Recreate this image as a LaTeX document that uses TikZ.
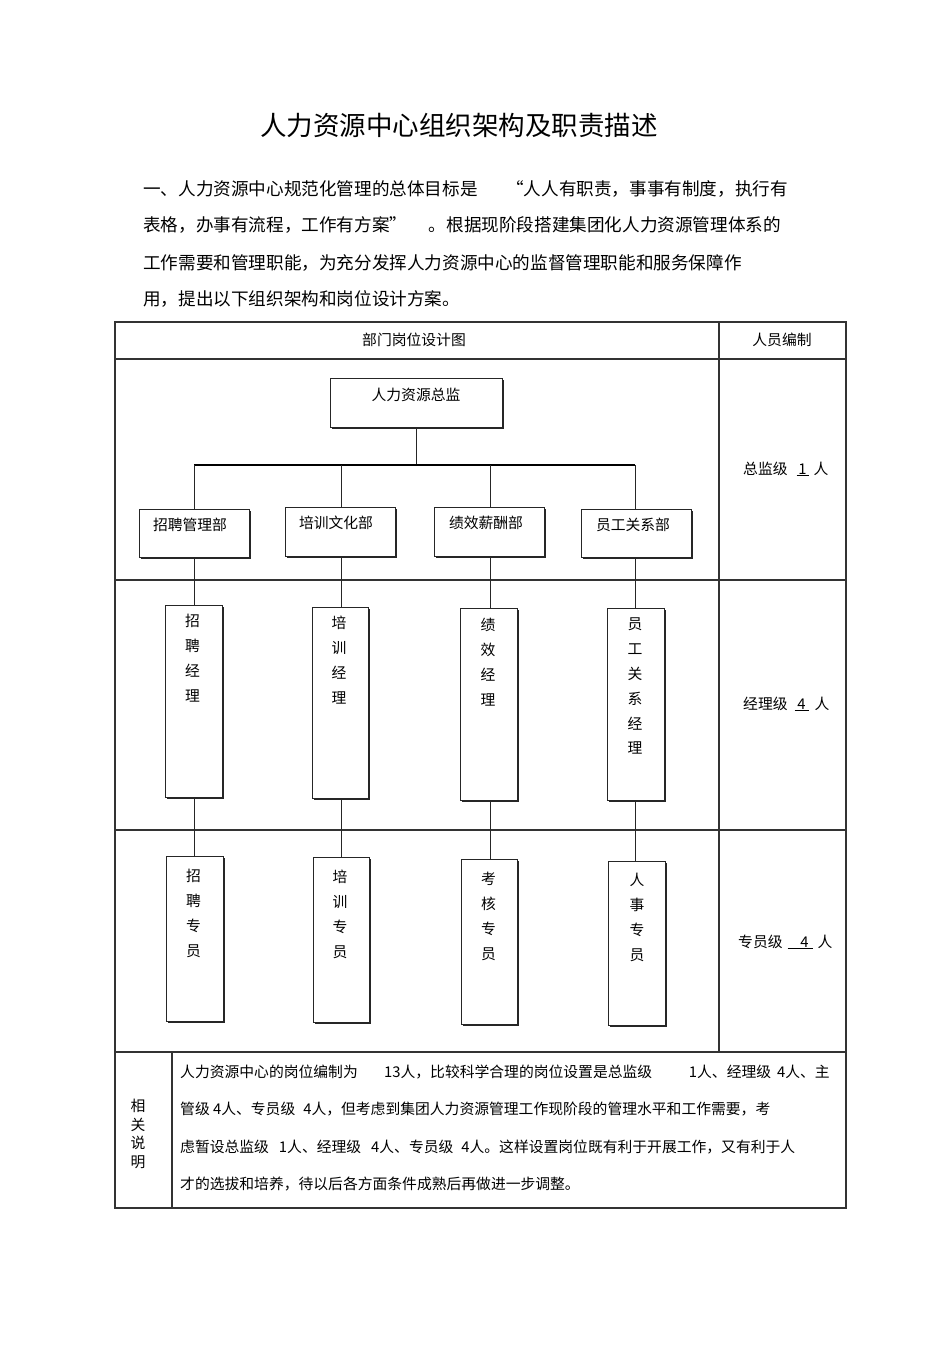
\documentclass[tikz,border=0pt]{standalone}
\usepackage{fontspec}
\setmainfont{Noto Sans CJK SC}
\usetikzlibrary{shadows}
\newcommand\tfont{\fontsize{14.8}{18}\selectfont}
\newcommand\vfont{\fontsize{14.8}{24.8}\selectfont}
\newcommand\pfont{\fontsize{17.6}{20}\selectfont}
\newcommand\ttlfont{\fontsize{26.5}{30}\selectfont}
\begin{document}
\begin{tikzpicture}[x=1pt,y=-1pt,
  tbl/.style={draw=black!80,line width=1.1pt},
  box/.style={draw=black!85,line width=0.8pt,fill=white,inner sep=0pt,
     drop shadow={shadow xshift=1.6pt,shadow yshift=-1.6pt,fill=black!85,opacity=1}},
  lbl/.style={inner sep=0pt,font=\tfont},
  plbl/.style={inner sep=0pt,font=\pfont},
  vlbl/.style={inner sep=0pt,anchor=north,align=center,font=\vfont},
  con/.style={draw=black!85,line width=0.8pt},
  barline/.style={draw=black,line width=1.8pt}
]
\useasboundingbox[fill=white] (0,0) rectangle (950,1345);

% title and paragraph
\node[inner sep=0pt,font=\ttlfont] (title) at (459,125) {人力资源中心组织架构及职责描述};
\node[plbl,anchor=west] (p1a) at (143,189) {一、人力资源中心规范化管理的总体目标是};
\node[plbl,anchor=east] (p1b) at (788,189) {“人人有职责，事事有制度，执行有};
\node[plbl,anchor=west] (p2a) at (143,225) {表格，办事有流程，工作有方案”};
\node[plbl,anchor=east] (p2b) at (781,225) {。根据现阶段搭建集团化人力资源管理体系的};
\node[plbl,anchor=west] (p3) at (143,263) {工作需要和管理职能，为充分发挥人力资源中心的监督管理职能和服务保障作};
\node[plbl,anchor=west] (p4) at (143,299) {用，提出以下组织架构和岗位设计方案。};

% table frame
\draw[tbl] (115,322) rectangle (846,1208);
\draw[tbl] (115,359) -- (846,359);
\draw[tbl] (115,580) -- (846,580);
\draw[tbl] (115,830) -- (846,830);
\draw[tbl] (115,1052) -- (846,1052);
\draw[tbl] (719,322) -- (719,1052);
\draw[tbl] (172,1052) -- (172,1208);

\node[lbl] (h1) at (414,340) {部门岗位设计图};
\node[lbl] (h2) at (782,340) {人员编制};

% boxes
\node[box,minimum width=172pt,minimum height=49pt] (dir) at (416,402.5) {};
\node[box,minimum width=110pt,minimum height=48pt] (d1) at (194,533) {};
\node[box,minimum width=110pt,minimum height=49pt] (d2) at (340,531.5) {};
\node[box,minimum width=110pt,minimum height=49pt] (d3) at (489,531.5) {};
\node[box,minimum width=110pt,minimum height=48pt] (d4) at (636,533) {};
\node[box,minimum width=57pt,minimum height=192pt] (m1) at (193.5,701) {};
\node[box,minimum width=56pt,minimum height=191pt] (m2) at (340,702.5) {};
\node[box,minimum width=57pt,minimum height=192pt] (m3) at (488.5,704) {};
\node[box,minimum width=57pt,minimum height=192pt] (m4) at (635.5,704) {};
\node[box,minimum width=57pt,minimum height=165pt] (s1) at (194.5,938.5) {};
\node[box,minimum width=56pt,minimum height=165pt] (s2) at (341,939.5) {};
\node[box,minimum width=56pt,minimum height=165pt] (s3) at (489,941.5) {};
\node[box,minimum width=57pt,minimum height=164pt] (s4) at (636.5,943) {};

% box texts
\node[lbl] (dirt) at (416,395) {人力资源总监};
\node[lbl] (d1t) at (190,525) {招聘管理部};
\node[lbl] (d2t) at (336,523) {培训文化部};
\node[lbl] (d3t) at (486,523) {绩效薪酬部};
\node[lbl] (d4t) at (633,525) {员工关系部};
\node[vlbl] (m1t) at (192.5,614) {招\\聘\\经\\理};
\node[vlbl] (m2t) at (339,616) {培\\训\\经\\理};
\node[vlbl] (m3t) at (488,618) {绩\\效\\经\\理};
\node[vlbl] (m4t) at (635,618) {员\\工\\关\\系\\经\\理};
\node[vlbl] (s1t) at (193.5,869) {招\\聘\\专\\员};
\node[vlbl] (s2t) at (340,870) {培\\训\\专\\员};
\node[vlbl] (s3t) at (488.5,872) {考\\核\\专\\员};
\node[vlbl] (s4t) at (637,873) {人\\事\\专\\员};

% connectors
\coordinate (b1) at (194,465);
\coordinate (b2) at (341,465);
\coordinate (b3) at (490,465);
\coordinate (b4) at (635,465);
\draw[con] (dir.south) -- (dir.south |- b1);
\draw[barline] (b1) -- (b4);
\draw[con] (b1) -- (b1 |- d1.north);
\draw[con] (b2) -- (b2 |- d2.north);
\draw[con] (b3) -- (b3 |- d3.north);
\draw[con] (b4) -- (b4 |- d4.north);
\draw[con] (b1 |- d1.south) -- (b1 |- m1.north);
\draw[con] (b2 |- d2.south) -- (b2 |- m2.north);
\draw[con] (b3 |- d3.south) -- (b3 |- m3.north);
\draw[con] (b4 |- d4.south) -- (b4 |- m4.north);
\draw[con] (b1 |- m1.south) -- (b1 |- s1.north);
\draw[con] (b2 |- m2.south) -- (b2 |- s2.north);
\draw[con] (b3 |- m3.south) -- (b3 |- s3.north);
\draw[con] (b4 |- m4.south) -- (b4 |- s4.north);

% staffing column
\node[lbl,anchor=west] (r1) at (743,469) {总监级\hspace{9pt}\underline{\makebox[12pt]{1}}\hspace{5pt}人};
\node[lbl,anchor=west] (r2) at (743,704) {经理级\hspace{7pt}\underline{\makebox[14pt]{4}}\hspace{6pt}人};
\node[lbl,anchor=west] (r3) at (738,942) {专员级\hspace{5pt}\underline{\makebox[25pt][r]{4\hspace{4pt}}}\hspace{5pt}人};

% notes row
\node[inner sep=0pt,align=center,font={\fontsize{14.8}{18.7}\selectfont}] (notes) at (138,1134) {相\\关\\说\\明};
\node[lbl,anchor=west] (n1a) at (180,1072) {人力资源中心的岗位编制为};
\node[lbl,anchor=west] (n1b) at (384,1072) {13人，比较科学合理的岗位设置是总监级};
\node[lbl,anchor=east] (n1c) at (830,1072) {1人、经理级\hspace{6pt}4人、主};
\node[lbl,anchor=west] (n2) at (180,1109) {管级 4人、专员级\hspace{8pt}4人，但考虑到集团人力资源管理工作现阶段的管理水平和工作需要，考};
\node[lbl,anchor=west] (n3) at (180,1147) {虑暂设总监级\hspace{10pt}1人、经理级\hspace{10pt}4人、专员级\hspace{8pt}4人。这样设置岗位既有利于开展工作，又有利于人};
\node[lbl,anchor=west] (n4) at (180,1184) {才的选拔和培养，待以后各方面条件成熟后再做进一步调整。};
\end{tikzpicture}
\end{document}
